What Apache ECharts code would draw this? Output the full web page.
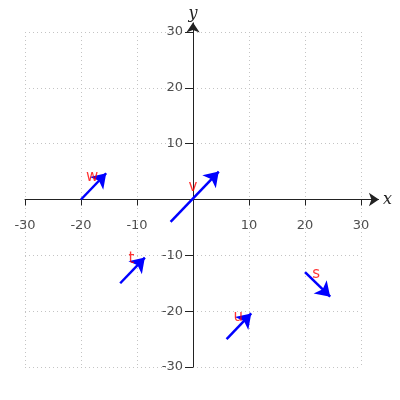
<!DOCTYPE html>
<html><head><meta charset="utf-8">
<script src="https://cdn.jsdelivr.net/npm/echarts@6/dist/echarts.min.js"></script>
<style>html,body{margin:0;padding:0;background:#fff}#c{width:400px;height:400px}</style>
</head><body><div id="c"></div>
<script>
var names = ['w', 'v', 't', 'u', 's'];
var starts = [[-20, 0], [-4, -4], [-13, -15], [6, -25], [20, -13]];
var ends = [[-15.5, 4.7], [4.6, 5], [-8.6, -10.4], [10.4, -20.4], [24.5, -17.4]];
var labelPos = [[-18, 4], [0, 2.2], [-11, -10.7], [8.1, -21.1], [22, -13.4]];
var xTicks = [-30, -20, -10, 10, 20, 30];
var yTicks = [-30, -20, -10, 10, 20, 30];

var chart = echarts.init(document.getElementById('c'), null, {renderer: 'canvas'});
var axisCommon = {
  type: 'value', min: -30, max: 30, interval: 10,
  axisLine: {show: true, onZero: true, lineStyle: {color: '#222', width: 1}},
  axisTick: {show: true, length: 6, lineStyle: {color: '#222', width: 1}},
  axisLabel: {show: false},
  splitLine: {show: true, lineStyle: {color: '#c4c4c4', width: 1, type: [1, 3]}},
  nameTextStyle: {fontFamily: 'DejaVu Serif', fontStyle: 'italic', fontSize: 16, color: '#222'}
};
var tickLabelStyle = {show: true, formatter: '{b}', color: '#222', fontSize: 13, fontFamily: 'DejaVu Sans'};
chart.setOption({
  animation: false,
  grid: {left: 25, right: 39, top: 32, bottom: 33, containLabel: false, outerBoundsMode: 'none'},
  xAxis: Object.assign({}, axisCommon, {name: 'x', nameLocation: 'end', nameGap: 22}),
  yAxis: Object.assign({}, axisCommon, {
    name: 'y', nameLocation: 'end', nameGap: 10,
    axisTick: {show: true, length: 8, lineStyle: {color: '#222', width: 1}}
  }),
  series: [
    {
      type: 'lines', coordinateSystem: 'cartesian2d', clip: false, silent: true,
      symbol: ['none', 'arrow'], symbolSize: 10,
      lineStyle: {color: '#222', width: 1, opacity: 1},
      data: [{coords: [[30, 0], [33.2, 0]]}, {coords: [[0, 30], [0, 31.7]]}]
    },
    {
      type: 'lines', coordinateSystem: 'cartesian2d', clip: false, silent: true,
      symbol: ['none', 'arrow'], symbolSize: 14,
      lineStyle: {color: '#0000ff', width: 2.5, opacity: 1},
      data: names.map(function (n, i) { return {name: n, coords: [starts[i], ends[i]]}; })
    },
    {
      type: 'scatter', symbolSize: 0, silent: true, clip: false,
      label: {show: true, position: 'inside', formatter: '{b}', color: '#ff0000',
        fontSize: 15, fontFamily: 'DejaVu Sans'},
      data: names.map(function (n, i) { return {name: n, value: labelPos[i]}; })
    },
    {
      type: 'scatter', symbolSize: 0, silent: true, clip: false,
      label: Object.assign({position: 'bottom', distance: 20}, tickLabelStyle),
      data: xTicks.map(function (v) { return {name: String(v), value: [v, 0]}; })
    },
    {
      type: 'scatter', symbolSize: 0, silent: true, clip: false,
      label: Object.assign({position: 'left', distance: 10}, tickLabelStyle),
      data: yTicks.map(function (v) { return {name: String(v), value: [0, v]}; })
    }
  ]
});
</script></body></html>
